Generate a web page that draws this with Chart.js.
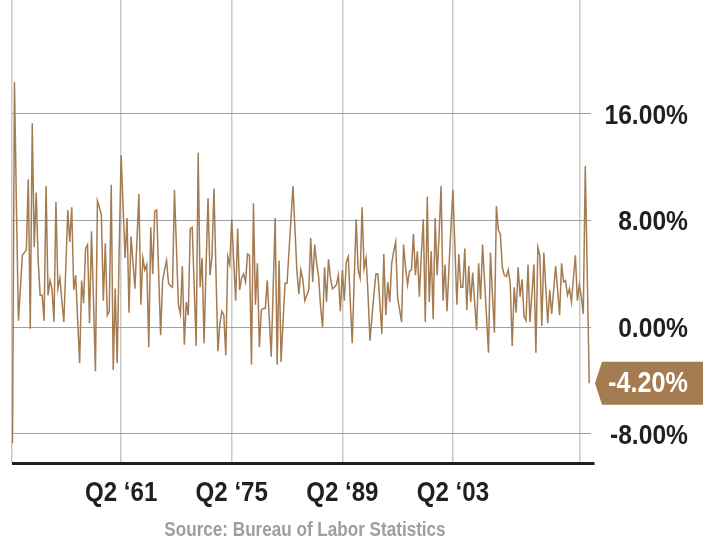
<!DOCTYPE html>
<html>
<head>
<meta charset="utf-8">
<script src="https://cdn.jsdelivr.net/npm/chart.js@4"></script>
<style>
  html, body { margin: 0; padding: 0; background: #ffffff; }
  #wrap { width: 711px; height: 543px; position: relative; }
</style>
</head>
<body>
<div id="wrap"><canvas id="chart"></canvas></div>
<script>
// Quarterly percent change, annualized, starting Q3 1947
const FIRST_YEAR = 1947;
const FIRST_QUARTER = 3;

const growth = [
  -8.7, 18.4, 9.0, 0.5, 2.9, 5.4, 5.6, 5.8, 11.1, -0.1,
  15.3, 6.0, 10.1, 5.0, 2.4, 2.4, 0.5, 10.6, 2.4, 3.5,
  2.9, 0.4, 9.4, 2.9, 3.7, 2.0, 0.4, 4.5, 8.8, 6.4,
  9.0, 2.8, 3.9, 0.5, -2.7, 3.5, 1.8, 5.9, 6.2, 0.3,
  7.2, 2.0, -3.3, 9.5, 9.0, 8.4, 2.0, 6.3, 0.9, 1.2,
  10.7, -3.2, 2.9, -2.7, 5.6, 12.9, 9.0, 5.2, 8.2, 1.1,
  6.8, 4.9, 2.9, 6.5, 10.0, 1.7, 5.2, 4.3, 4.7, -1.5,
  7.5, 4.0, 8.7, 8.8, 4.1, -0.6, 3.5, 4.3, 5.0, 3.3,
  3.1, 3.0, 10.3, 6.0, 1.7, 1.0, 4.6, -1.3, 1.9, 0.9,
  7.4, 7.5, 3.0, -1.4, 13.1, 3.0, 5.2, -1.2, 4.5, 9.7,
  3.9, 5.3, 10.4, 4.3, -1.8, 0.3, 1.2, 0.9, -2.1, 5.3,
  4.7, 8.1, 5.0, 2.0, 7.4, 2.8, 3.7, 4.0, 3.4, 5.5,
  5.4, -2.8, 9.3, 1.7, 4.8, -1.5, 1.3, 1.4, 1.4, 3.5,
  0.7, -2.2, 3.0, 8.2, -2.8, 5.0, -2.6, 0.5, 3.3, 3.3,
  5.7, 8.1, 10.6, 7.4, 4.2, 2.5, 4.3, 3.6, 2.0, 2.4,
  2.8, 6.7, 3.4, 6.2, 4.8, 3.8, 1.5, 0.0, 4.5, 1.9,
  5.1, 3.7, 2.9, 3.0, 3.2, 3.9, 1.2, 4.3, 2.0, 4.9,
  5.3, 2.0, -1.2, 3.5, 8.1, 4.3, 3.7, 9.0, 4.4, 5.2,
  2.5, -1.0, 0.8, 2.5, 4.0, 4.0, 1.8, -0.5, 5.5, 0.9,
  3.4, 1.9, 4.8, 5.7, 6.4, 2.2, 1.3, 0.4, 6.2, 4.5,
  3.2, 4.2, 4.3, 7.0, 3.9, 5.7, 2.3, 5.5, 8.1, 0.4,
  9.8, 1.9, 5.7, 0.6, 8.2, 3.9, 7.0, 10.6, 2.0, 4.7,
  1.2, 4.5, 7.5, 10.3, 6.0, 1.7, 5.5, 3.0, 3.0, 5.9,
  1.3, 4.6, 1.9, 4.1, 1.8, -0.2, 4.8, 2.1, 6.2, 3.5,
  0.8, -1.9, 5.6, 2.5, -0.4, 9.1, 7.3, 7.0, 4.5, 3.9,
  3.8, 4.3, 3.3, -1.4, 3.0, 1.1, 4.5, 2.3, 3.6, 0.8,
  0.5, 4.7, 0.4, 2.5, 4.7, -1.9, 6.0, 5.4, 0.1, 5.6,
  3.0, 0.3, 2.8, 1.0, 2.8, 4.6, 2.8, 0.9, 4.8, 3.4,
  3.5, 2.4, 2.9, 1.9, 3.7, 5.4, 2.0, 3.2, 2.3, 1.0,
  12.1, 4.0, -4.2
];

// Quarter names for every point: "Q3 1947", "Q4 1947", ...
const quarters = growth.map((_, i) => {
  const n = FIRST_QUARTER - 1 + i;
  return 'Q' + (n % 4 + 1) + ' ' + (FIRST_YEAR + Math.floor(n / 4));
});

const labeledQuarters = ['Q2 1961', 'Q2 1975', 'Q2 1989', 'Q2 2003'];
const gridOnlyQuarters = ['Q2 2019'];
const yTickValues = [-8, 0, 8, 16];
const sourceNote = 'Source: Bureau of Labor Statistics';

const FONT = "'Liberation Sans', Arial, sans-serif";
const BROWN = '#a57b51';
const INK = '#231f20';

const labeledIdx = labeledQuarters.map(q => quarters.indexOf(q));
const gridOnlyIdx = gridOnlyQuarters.map(q => quarters.indexOf(q));

function shortQuarter(q) {
  return q.replace(/ \d\d(\d\d)$/, ' \u2018$1');
}
function pct(v) {
  return v.toFixed(2) + '%';
}

// bold text squeezed horizontally to a condensed look
function condensedText(ctx, text, x, y, size, squeeze, align, color) {
  ctx.save();
  ctx.translate(x, y);
  ctx.scale(squeeze, 1);
  ctx.font = 'bold ' + size + 'px ' + FONT;
  ctx.fillStyle = color;
  ctx.textAlign = align;
  ctx.textBaseline = 'middle';
  ctx.fillText(text, 0, 0);
  ctx.restore();
}

const decor = {
  id: 'decor',
  afterDraw(chart) {
    const { ctx, chartArea, scales } = chart;
    const xs = scales.x, ys = scales.y;
    ctx.save();

    // heavy baseline under the plot
    ctx.fillStyle = INK;
    ctx.fillRect(chartArea.left, chartArea.bottom - 1, chartArea.right - chartArea.left + 3.5, 3);

    // value axis labels on the right
    ys.ticks.forEach(t => {
      condensedText(ctx, pct(t.value), 688, ys.getPixelForValue(t.value) + 2, 28, 0.88, 'right', INK);
    });

    // quarter labels under the baseline
    labeledIdx.forEach((idx, k) => {
      condensedText(ctx, shortQuarter(labeledQuarters[k]), xs.getPixelForValue(idx), 493, 28, 0.86, 'center', INK);
    });

    // tag with the latest value
    const last = growth[growth.length - 1];
    const y = ys.getPixelForValue(last);
    const tip = chartArea.right + 4;
    const body = tip + 7;
    const right = chartArea.right + 112;
    const h = 21.5;
    ctx.fillStyle = BROWN;
    ctx.beginPath();
    ctx.moveTo(tip, y);
    ctx.lineTo(body, y - h);
    ctx.lineTo(right, y - h);
    ctx.lineTo(right, y + h);
    ctx.lineTo(body, y + h);
    ctx.closePath();
    ctx.fill();
    condensedText(ctx, pct(last), 688, y + 1, 29, 0.87, 'right', '#ffffff');

    // source line
    condensedText(ctx, sourceNote, 305, 530, 20, 0.855, 'center', '#9e9e9e');
    ctx.restore();
  }
};

new Chart(document.getElementById('chart'), {
  type: 'line',
  data: {
    datasets: [{
      data: growth.map((v, i) => ({ x: i, y: v })),
      borderColor: BROWN,
      borderWidth: 1.5,
      pointRadius: 0,
      tension: 0,
      fill: false
    }]
  },
  options: {
    responsive: true,
    maintainAspectRatio: false,
    animation: false,
    layout: { padding: { left: 12, top: 0, right: 0, bottom: 0 } },
    plugins: { legend: { display: false }, tooltip: { enabled: false } },
    scales: {
      x: {
        type: 'linear',
        min: -0.25,
        max: 292.9,
        afterBuildTicks: s => {
          s.ticks = [{ value: s.min }]
            .concat(labeledIdx.map(i => ({ value: i })))
            .concat(gridOnlyIdx.map(i => ({ value: i })));
        },
        afterFit: s => { s.height = 80; s.paddingLeft = 0; s.paddingRight = 0; },
        grid: { color: '#c9c9c9', lineWidth: 1.5, drawTicks: false },
        border: { display: false },
        ticks: { display: false }
      },
      y: {
        position: 'right',
        min: -10.18,
        max: 24.55,
        afterBuildTicks: s => { s.ticks = yTickValues.map(v => ({ value: v })); },
        afterFit: s => { s.width = 120; s.paddingTop = 0; s.paddingBottom = 0; },
        grid: { color: '#a0a0a0', lineWidth: 1, drawTicks: false },
        border: { display: false },
        ticks: { display: false }
      }
    }
  },
  plugins: [decor]
});
</script>
</body>
</html>
